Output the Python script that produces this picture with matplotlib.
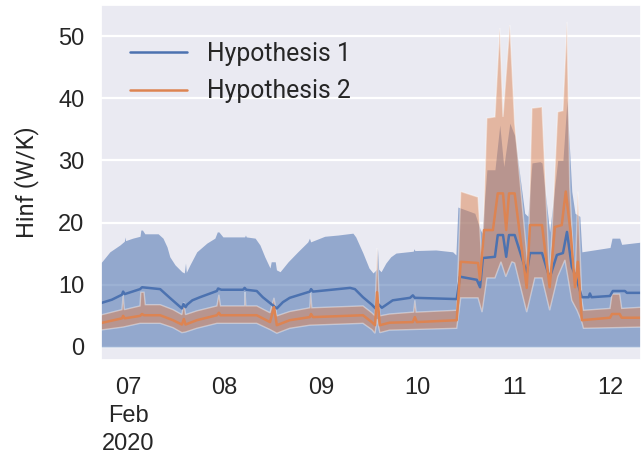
"""Hinf estimates for the two hypotheses, 7-12 Feb 2020."""
import numpy as np
import pandas as pd
import seaborn as sns
import matplotlib
matplotlib.use('Agg')
import matplotlib.pyplot as plt
import matplotlib.dates as mdates

START = pd.Timestamp('2020-02-07')

# (hours after 7 Feb 00:00, W/K)
H1_MEAN = [(-7, 7.0), (-4, 7.6), (-1.5, 8.4), (-1.2, 8.9), (-0.8, 8.5), (3.0, 9.3),
           (3.5, 9.6), (5, 9.5), (8, 9.3), (10.4, 7.9), (13.4, 6.2), (13.8, 6.9),
           (14.3, 6.4), (14.7, 6.8), (16.0, 7.5), (17.9, 8.0), (22.1, 9.0), (22.4, 9.4),
           (23.2, 9.2), (28.6, 9.2), (29.0, 9.5), (29.4, 9.2), (32.0, 9.0), (33.5, 8.0),
           (35.8, 6.8), (37.0, 6.2), (38.5, 7.2), (40.2, 7.9), (45.2, 8.9), (45.5, 9.3),
           (46, 8.9), (55.2, 9.5), (56.4, 9.3), (58.4, 8.0), (60.6, 6.8), (61.5, 6.2),
           (62.0, 7.0), (63.1, 6.3), (65.8, 7.5), (70.1, 7.9), (70.8, 8.3), (71.3, 7.9),
           (81.7, 7.7), (82.5, 11.3), (86.7, 10.8), (87.5, 9.6), (88.2, 14.3), (91.2, 14.5),
           (91.9, 18.0), (93.2, 18.0), (94.0, 14.5), (94.7, 18.0), (96.1, 18.0), (99.1, 11.9),
           (99.9, 15.1), (102.9, 15.1), (104.8, 11.1), (106.6, 14.8), (108.1, 15.1),
           (109.1, 18.5), (110.3, 12.9), (111.3, 11.3), (112.8, 8.0), (114.5, 8.0),
           (114.8, 8.6), (115.2, 8.0), (119.8, 8.2), (120.5, 9.0), (123.5, 9.0),
           (124.0, 8.7), (128, 8.7)]

H1_UPPER = [(-7, 13.5), (-6.5, 13.7), (-4.5, 15.3), (-2.0, 16.4), (-0.9, 17.0), (-0.75, 17.7),
            (-0.6, 17.1), (1.2, 17.5), (3.0, 17.8), (3.2, 18.8), (3.6, 18.8), (4.2, 18.2),
            (7.5, 18.2), (8.7, 17.5), (9.7, 16.1), (10.4, 14.5), (11.7, 13.2), (13.4, 12.1),
            (14.0, 11.9), (14.3, 13.5), (14.5, 12.0), (15.4, 13.2), (17.1, 15.3), (19.6, 16.7),
            (21.6, 17.5), (22.2, 18.5), (22.6, 18.5), (23.6, 17.7), (29.0, 17.7), (29.2, 18.0),
            (29.4, 17.7), (31.6, 17.5), (32.8, 16.4), (34.0, 14.5), (35.3, 12.7), (35.6, 13.7),
            (36.6, 13.7), (36.9, 12.4), (37.8, 12.1), (39.8, 13.7), (42.2, 15.3), (44.7, 16.9),
            (45.1, 17.5), (45.4, 16.9), (48.9, 17.8), (52.2, 18.0), (55.9, 18.3), (56.6, 17.7),
            (58.4, 15.1), (59.9, 12.7), (60.9, 11.9), (61.8, 12.5), (62.0, 15.9), (62.3, 12.5),
            (62.9, 12.1), (64.1, 13.5), (65.3, 14.5), (66.6, 15.1), (70.9, 15.4), (71.1, 15.8),
            (71.3, 15.5), (76.5, 15.6), (80.7, 15.3), (81.5, 14.8), (82.0, 22.5), (86.2, 21.5),
            (87.5, 19.0), (88.0, 18.3), (89.2, 28.5), (91.2, 28.5), (92.4, 35.7), (93.4, 29.0),
            (94.9, 36.0), (96.1, 34.0), (98.6, 21.5), (99.4, 21.0), (100.4, 29.6),
            (102.4, 29.8), (102.9, 29.6), (104.8, 18.5), (106.8, 30.0), (108.1, 30.0),
            (109.1, 39.7), (110.3, 25.0), (111.1, 21.5), (112.3, 21.0), (112.8, 15.3),
            (119.8, 16.0), (120.3, 17.5), (122.2, 17.5), (122.7, 16.5), (128, 16.9)]

H2_MEAN = [(-7, 3.8), (-1.5, 4.6), (-1.2, 5.0), (-0.8, 4.6), (3.0, 5.0), (3.5, 5.3),
           (4, 5.1), (8.0, 5.1), (11.2, 4.3), (13.4, 3.6), (13.9, 4.5), (14.3, 3.6),
           (17.1, 4.3), (22.1, 5.1), (22.6, 5.5), (23, 5.1), (32.0, 5.1), (35.3, 4.0),
           (36.3, 6.4), (37.0, 3.5), (40.2, 4.3), (45.2, 4.8), (45.5, 5.3), (46, 4.8),
           (58.4, 5.1), (60.6, 4.0), (61.4, 3.5), (61.9, 8.8), (62.6, 3.5), (65, 3.9),
           (70.8, 4.0), (71.3, 4.8), (71.8, 4.0), (81.7, 4.3), (82.7, 13.7), (87.0, 13.5),
           (87.5, 10.8), (88.5, 18.8), (90.7, 18.8), (91.9, 24.7), (93.2, 24.7), (94.0, 18.8),
           (94.7, 24.7), (96.1, 24.7), (99.1, 9.5), (99.9, 19.6), (102.9, 19.6), (104.8, 9.6),
           (106.1, 19.3), (107.8, 19.6), (108.8, 25.0), (110.0, 18.5), (111.1, 9.6),
           (111.8, 13.7), (112.8, 4.3), (119.8, 4.7), (120.3, 5.3), (122.2, 5.3),
           (122.7, 4.7), (128, 4.7)]

H2_UPPER = [(-7, 5.1), (-1.5, 6.0), (-1.2, 8.4), (-0.9, 6.0), (3.0, 6.6), (3.2, 8.8),
            (4.0, 8.8), (4.3, 6.8), (8.0, 6.8), (11.2, 6.0), (13.4, 5.2), (13.9, 7.2),
            (14.3, 5.2), (17.1, 5.8), (22.1, 6.6), (22.6, 8.4), (23.0, 6.6), (29.0, 6.6),
            (29.1, 8.8), (29.3, 6.6), (32.0, 6.6), (35.3, 5.5), (36.3, 7.9), (37.0, 5.0),
            (40.2, 5.7), (45.2, 6.3), (45.4, 8.8), (45.7, 6.3), (58.4, 6.6), (60.6, 5.5),
            (61.4, 5.0), (61.9, 15.9), (62.6, 5.0), (65, 5.3), (71.0, 5.6), (71.3, 7.5),
            (71.6, 5.6), (81.7, 5.9), (82.7, 25.0), (87.0, 24.1), (88.0, 12.9), (89.2, 36.8),
            (91.2, 37.0), (92.4, 51.3), (93.2, 37.0), (94.9, 51.8), (96.1, 36.0), (99.4, 12.9),
            (100.4, 38.4), (102.9, 38.6), (104.8, 10.8), (106.8, 37.8), (108.1, 38.0),
            (109.1, 52.3), (109.8, 25.7), (111.1, 9.6), (111.8, 25.0), (112.8, 7.5),
            (113.2, 5.9), (119.8, 6.2), (120.3, 8.5), (122.2, 8.5), (122.7, 6.2), (128, 6.4)]

H2_LOWER = [(-7, 2.7), (-1.2, 3.2), (3.0, 3.8), (8.0, 3.8), (11.2, 3.1), (13.4, 2.3),
            (14.3, 2.4), (17.1, 3.0), (22.1, 3.8), (32.0, 3.8), (35.3, 2.8), (37.0, 2.2),
            (40.2, 3.0), (45.2, 3.5), (58.4, 3.8), (60.6, 2.8), (61.4, 2.2), (61.9, 4.5),
            (62.6, 2.3), (65, 2.7), (81.7, 3.0), (82.7, 7.9), (87.0, 7.9), (88.0, 5.6),
            (89.2, 11.1), (91.2, 11.1), (92.7, 13.7), (93.9, 11.3), (95.4, 13.7), (96.1, 13.5),
            (99.1, 5.6), (101.1, 11.1), (102.9, 11.1), (104.8, 5.9), (106.8, 11.3),
            (108.6, 14.0), (110.3, 7.5), (111.6, 5.9), (112.8, 4.0), (113.2, 3.0), (128, 3.2)]

LABELS = ['Hypothesis 1', 'Hypothesis 2']
BLUE, ORANGE = sns.color_palette('deep')[:2]


def series(points):
    """Split (hours, value) pairs into timestamps and values."""
    hours, values = zip(*points)
    return START + pd.to_timedelta(hours, unit='h'), np.array(values)


def day_label(x, pos):
    d = mdates.num2date(x)
    if pos == 0:
        return d.strftime('%d\n%b\n%Y')
    return d.strftime('%d')


sns.set_theme(style='darkgrid')
plt.rcParams['font.family'] = ['Liberation Sans', 'DejaVu Sans']

fig = plt.figure(figsize=(6.41, 4.57), dpi=100)
ax = fig.add_axes([101 / 641, 1 - 360 / 457, 540 / 641, 355 / 457])

t1, v1 = series(H1_MEAN)
tu1, u1 = series(H1_UPPER)
t2, v2 = series(H2_MEAN)
tu2, u2 = series(H2_UPPER)
tl2, l2 = series(H2_LOWER)

# hypothesis 1 band runs from zero up to its upper bound
ax.fill_between(tu1, 0, u1, color=BLUE, alpha=0.55, linewidth=0)

# hypothesis 2 band as a closed polygon, upper bound then lower bound back
band_x = np.concatenate([mdates.date2num(tu2), mdates.date2num(tl2)[::-1]])
band_y = np.concatenate([u2, l2[::-1]])
ax.fill(band_x, band_y, facecolor=(*ORANGE, 0.5), edgecolor=(1, 1, 1, 0.4), linewidth=1.0)

l_1, = ax.plot(t1, v1, color=BLUE, lw=1.8)
l_2, = ax.plot(t2, v2, color=ORANGE, lw=1.8)

ax.set_xlim(START + pd.Timedelta(hours=-6.7), START + pd.Timedelta(hours=127.5))
ax.set_ylim(-2.1, 55)
ax.set_yticks(range(0, 51, 10))
ax.xaxis.set_major_locator(mdates.DayLocator())
ax.xaxis.set_major_formatter(plt.FuncFormatter(day_label))
ax.grid(axis='x', visible=False)
ax.grid(axis='y', color='white', lw=1.6)
ax.tick_params(axis='both', labelsize=17, colors='#262626', length=0)
ax.tick_params(axis='y', pad=12)
ax.tick_params(axis='x', pad=12)
fig.canvas.draw()
for lab in ax.get_xticklabels():
    lab.set_horizontalalignment('center')
    lab.set_linespacing(1.35)

ax.set_ylabel('Hinf (W/K)', fontsize=17, family='Roboto', color='#262626', labelpad=14)

ax.legend([l_1, l_2], LABELS, loc='upper left', bbox_to_anchor=(0.054, 0.897),
          frameon=False, borderaxespad=0, borderpad=0, handlelength=2.3,
          handletextpad=0.8, labelspacing=0.55, prop={'family': 'Roboto', 'size': 17.8})

fig.savefig('out.png')
plt.close(fig)
